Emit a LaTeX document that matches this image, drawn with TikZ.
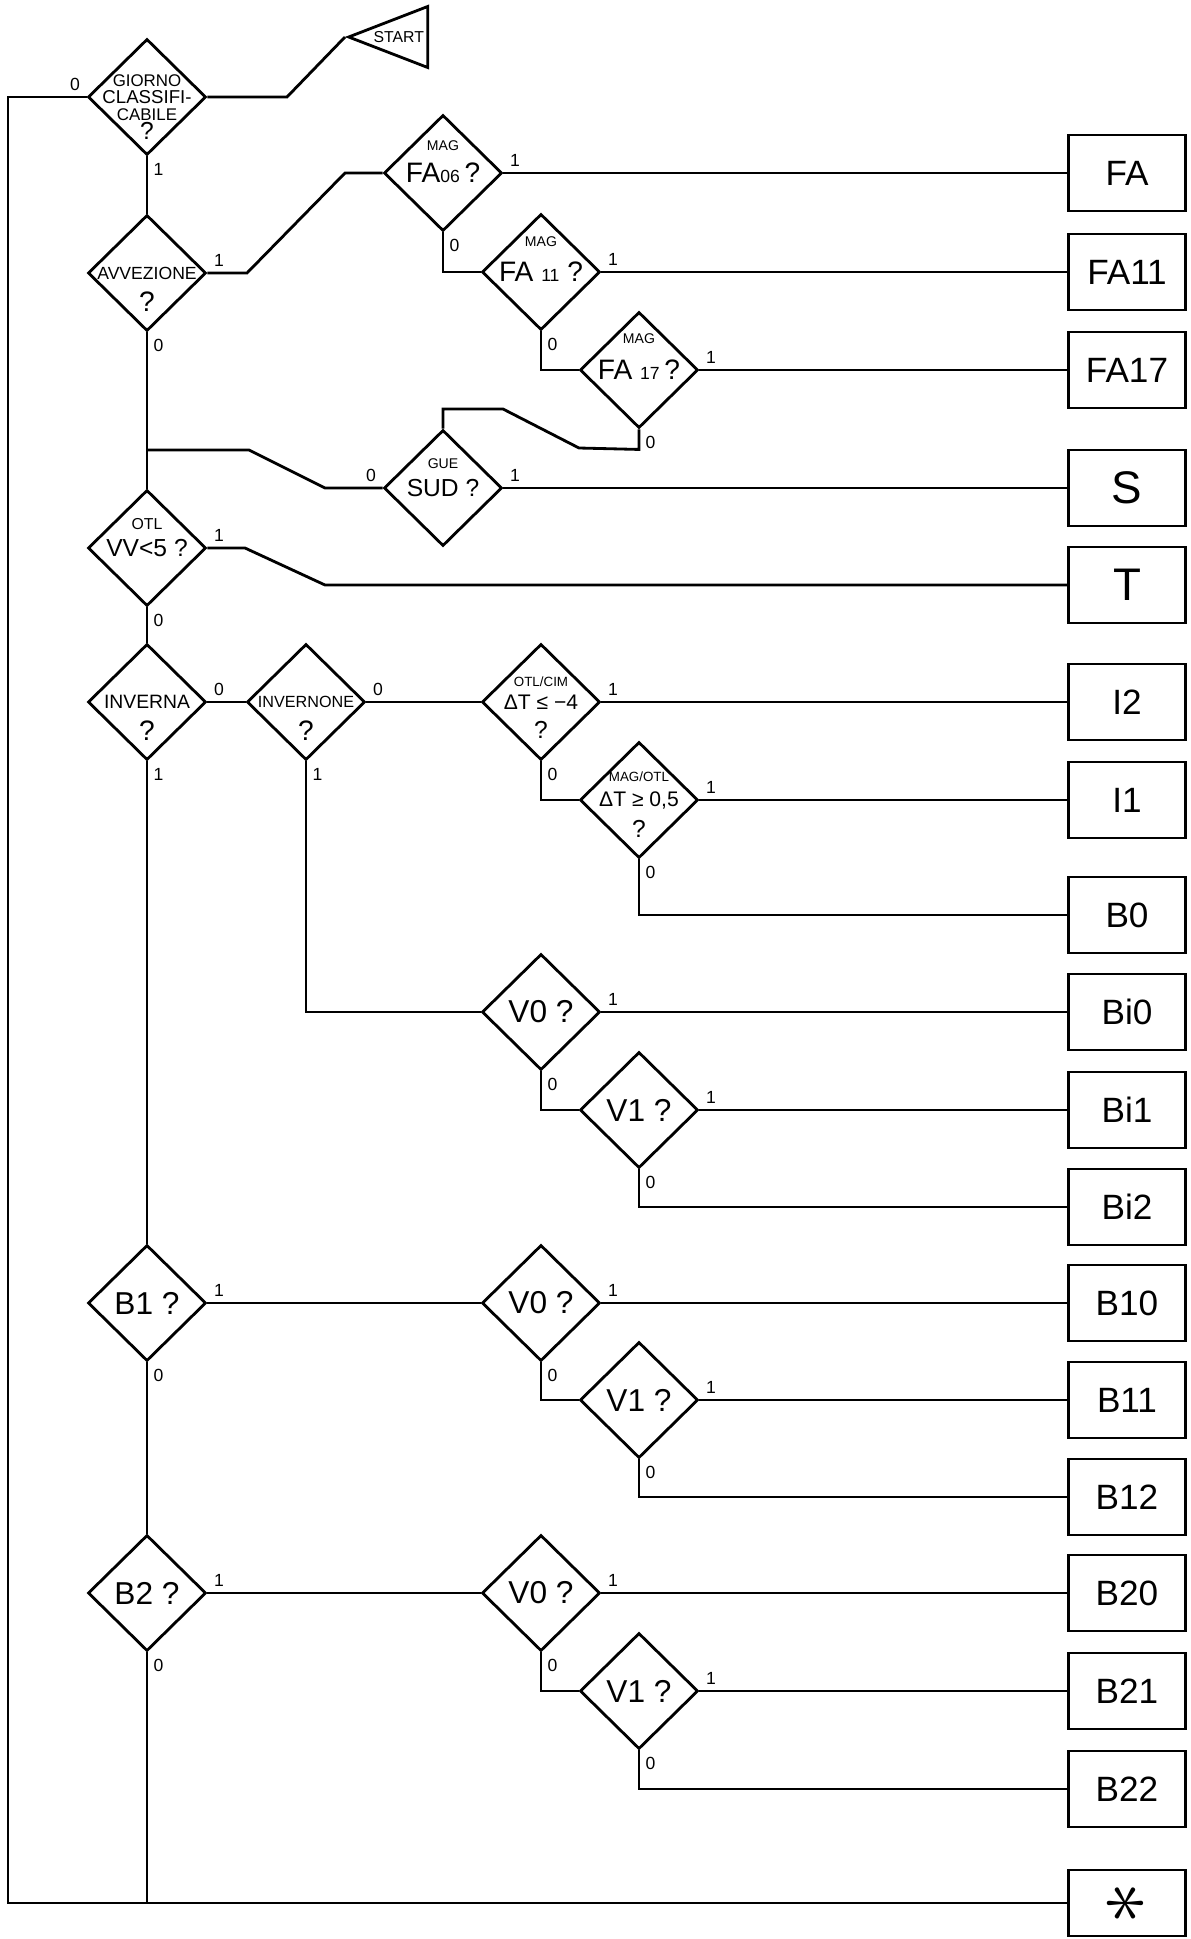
\documentclass[tikz,border=0pt]{standalone}
\usepackage{fontspec}
\setmainfont{Liberation Sans}
\usetikzlibrary{shapes.geometric}
\newcommand{\fsz}[1]{\fontsize{#1}{#1}\selectfont}
\newcommand{\smallnum}[1]{{\fsz{5}#1}}

\begin{document}
\begin{tikzpicture}[
  x=0.01cm, y=-0.01cm,
  line width=0.8pt,
  every node/.style={inner sep=0pt},
  dia/.style={
    diamond, draw, minimum width=1.18cm, minimum height=1.16cm,
    inner sep=-4mm
  },
  txt/.style n args={3}{label={[font=\fsz{#1}, yshift=#3]center:#2}},
  res/.style={
    rectangle, draw, minimum width=1.17cm, minimum height=0.76cm,
    font=\fsz{10}
  },
  bit/.style={font=\fsz{5}, inner sep=1.5pt},
  east1/.style={label={[bit, anchor=south west]east:1}},
  east0/.style={label={[bit, anchor=south west]east:0}},
  south1/.style={label={[bit, anchor=north west]south:1}},
  south0/.style={label={[bit, anchor=north west]south:0}},
  west0/.style={label={[bit, anchor=south east]west:0}}
]
\useasboundingbox (0,0) rectangle (1191,1939);

% start
\node[draw, isosceles triangle, shape border rotate=180,
  isosceles triangle stretches, minimum height=0.79cm, minimum width=0.61cm,
  anchor=apex, font=\fsz{4.5}] (start) at (345,37) {START};

% decisions
\node[dia, west0, south1, font=\fsz{5.3}, txt={4.8}{GIORNO}{0.16cm},
  txt={4.8}{CABILE}{-0.18cm}, txt={7}{?}{-0.34cm}] (gio) at (147,97) {CLASSIFI-};
\node[dia, east1, south0, font=\fsz{5}, txt={8}{?}{-0.29cm}] (avv) at (147,273) {AVVEZIONE};
\node[dia, east1, south0, font=\fsz{8}, txt={4}{MAG}{0.27cm}] (mag06) at (443,173) {FA\smallnum{06}\,?};
\node[dia, east1, south0, font=\fsz{8}, txt={4}{MAG}{0.30cm}] (mag11) at (541,272) {FA \smallnum{11} ?};
\node[dia, east1, south0, font=\fsz{8}, txt={4}{MAG}{0.31cm}] (mag17) at (639,370) {FA \smallnum{17}\,?};
\node[dia, west0, east1, font=\fsz{7}, txt={4}{GUE}{0.24cm}] (gue) at (443,488) {SUD ?};
\node[dia, east1, south0, font=\fsz{7}, txt={4.5}{OTL}{0.24cm}] (otl) at (147,548) {VV<5 ?};
\node[dia, east0, south1, font=\fsz{5.5}, txt={8}{?}{-0.29cm}] (inv) at (147,702) {INVERNA};
\node[dia, east0, south1, font=\fsz{4.6}, txt={8}{?}{-0.29cm}] (invn) at (306,702) {INVERNONE};
\node[dia, east1, south0, font=\fsz{6}, txt={3.8}{OTL/CIM}{0.2cm},
  txt={7}{?}{-0.28cm}] (cim) at (541,702) {ΔT ≤ −4};
\node[dia, east1, south0, font=\fsz{6}, txt={3.8}{MAG/OTL}{0.23cm},
  txt={7}{?}{-0.29cm}] (dt) at (639,800) {ΔT ≥ 0,5};
\node[dia, east1, south0, font=\fsz{9}] (v0a) at (541,1012) {V0 ?};
\node[dia, east1, south0, font=\fsz{9}] (v1a) at (639,1110) {V1 ?};
\node[dia, east1, south0, font=\fsz{9}] (bb1) at (147,1303) {B1 ?};
\node[dia, east1, south0, font=\fsz{9}] (v0b) at (541,1303) {V0 ?};
\node[dia, east1, south0, font=\fsz{9}] (v1b) at (639,1400) {V1 ?};
\node[dia, east1, south0, font=\fsz{9}] (bb2) at (147,1593) {B2 ?};
\node[dia, east1, south0, font=\fsz{9}] (v0c) at (541,1593) {V0 ?};
\node[dia, east1, south0, font=\fsz{9}] (v1c) at (639,1691) {V1 ?};

% results
\node[res] (fa)   at (1127,173)  {FA};
\node[res] (fa11) at (1127,272)  {FA11};
\node[res] (fa17) at (1127,370)  {FA17};
\node[res, font=\fsz{13}] (s) at (1127,488) {S};
\node[res, font=\fsz{13}] (t) at (1127,585) {T};
\node[res] (i2)   at (1127,702)  {I2};
\node[res] (i1)   at (1127,800)  {I1};
\node[res] (b0)   at (1127,915)  {B0};
\node[res] (bi0)  at (1127,1012) {Bi0};
\node[res] (bi1)  at (1127,1110) {Bi1};
\node[res] (bi2)  at (1127,1207) {Bi2};
\node[res] (b10)  at (1127,1303) {B10};
\node[res] (b11)  at (1127,1400) {B11};
\node[res] (b12)  at (1127,1497) {B12};
\node[res] (b20)  at (1127,1593) {B20};
\node[res] (b21)  at (1127,1691) {B21};
\node[res] (b22)  at (1127,1789) {B22};
\node[res, minimum height=0.66cm] (x) at (1127,1903) {\scalebox{2.4}{\rotatebox{90}{$\ast$}}};

% main line
\draw (gio.east) -- (287,97) -- (start.apex);
\draw (gio.south) -- (avv.north);
\draw (avv.south) -- (otl.north);
\draw (otl.south) -- (inv.north);
\draw (inv.south) -- (bb1.north);
\draw (bb1.south) -- (bb2.north);
\draw (bb2.south) -- (bb2.south |- x.west);
\draw (gio.west) -- (8,97) |- (x.west);

% foehn branch
\draw (avv.east) -- (247,273) -- (345,173) -- (mag06.west);
\draw (mag06.east) -- (fa.west);
\draw (mag06.south) |- (mag11.west);
\draw (mag11.east) -- (fa11.west);
\draw (mag11.south) |- (mag17.west);
\draw (mag17.east) -- (fa17.west);
\draw (mag17.south) -- ++(0,20) -- (579,448) -- (503,409) -| (gue.north);
\draw (gue.east) -- (s.west);
\draw (gue.west) -- (325,488) -- (249,450) -- (147,450);
\draw (otl.east) -- (245,548) -- (325,585) -- (t.west);

% winter
\draw (inv.east) -- (invn.west);
\draw (invn.east) -- (cim.west);
\draw (cim.east) -- (i2.west);
\draw (cim.south) |- (dt.west);
\draw (dt.east) -- (i1.west);
\draw (dt.south) |- (b0.west);
\draw (invn.south) |- (v0a.west);
\draw (v0a.east) -- (bi0.west);
\draw (v0a.south) |- (v1a.west);
\draw (v1a.east) -- (bi1.west);
\draw (v1a.south) |- (bi2.west);

% B1, B2
\draw (bb1.east) -- (v0b.west);
\draw (v0b.east) -- (b10.west);
\draw (v0b.south) |- (v1b.west);
\draw (v1b.east) -- (b11.west);
\draw (v1b.south) |- (b12.west);
\draw (bb2.east) -- (v0c.west);
\draw (v0c.east) -- (b20.west);
\draw (v0c.south) |- (v1c.west);
\draw (v1c.east) -- (b21.west);
\draw (v1c.south) |- (b22.west);
\end{tikzpicture}
\end{document}
